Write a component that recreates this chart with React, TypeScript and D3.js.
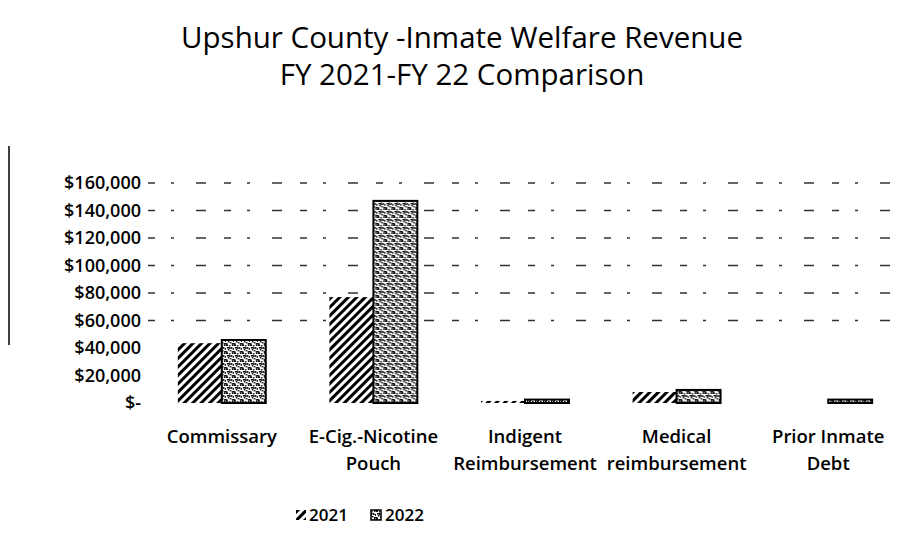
import React from 'react';
import * as d3 from 'd3';

const categories = [
  ['Commissary'],
  ['E-Cig.-Nicotine', 'Pouch'],
  ['Indigent', 'Reimbursement'],
  ['Medical', 'reimbursement'],
  ['Prior Inmate', 'Debt'],
];
const values2021 = [43500, 77000, 1500, 8000, 0];
const values2022 = [45800, 147000, 2500, 9500, 2500];
const seriesNames = ['2021', '2022'];
const yTicks = [0, 20000, 40000, 60000, 80000, 100000, 120000, 140000, 160000];
const gridTicks = [60000, 80000, 100000, 120000, 140000, 160000];

const W = 923;
const H = 546;
const FONT = '"Open Sans", Lato, "DejaVu Sans", sans-serif';

const fmt = (v: number) => (v === 0 ? '$-' : '$' + d3.format(',')(v));

// fixed stipple layout for the 2022 texture
const stipple = [
  [0, 0], [3, 1], [6, 0], [1, 3], [5, 3], [2, 5], [7, 4], [4, 6], [0, 7], [6, 7], [3, 3],
];

const App: React.FC = () => {
  const x = d3.scaleBand<number>()
    .domain(d3.range(categories.length))
    .range([146, 904])
    .paddingInner(0.42)
    .paddingOuter(0.21);
  const sub = d3.scaleBand<string>()
    .domain(seriesNames)
    .range([0, x.bandwidth()]);
  const y = d3.scaleLinear().domain([0, 160000]).range([403, 183]);

  const series = [values2021, values2022];

  return (
    <svg
      width={W}
      height={H}
      style={{ position: 'absolute', left: 0, top: 0, background: '#fff' }}
      fontFamily={FONT}
    >
      <defs>
        <pattern id="hatch" width="6" height="6" patternUnits="userSpaceOnUse" patternTransform="rotate(45)">
          <rect width="6" height="6" fill="#fff" />
          <rect x="0" y="0" width="3" height="6" fill="#000" />
        </pattern>
        <pattern id="stip" width="8" height="8" patternUnits="userSpaceOnUse">
          <rect width="8" height="8" fill="#fff" />
          {stipple.map(([sx, sy], i) => (
            <rect key={i} x={sx} y={sy} width={i % 3 === 0 ? 2 : 1.5} height={i % 2 === 0 ? 2 : 1.5} fill="#111" />
          ))}
        </pattern>
      </defs>

      {/* title */}
      <text x={462} y={48} textAnchor="middle" fontSize={29.5} fill="#000">
        Upshur County -Inmate Welfare Revenue
      </text>
      <text x={462} y={85} textAnchor="middle" fontSize={29.5} fill="#000">
        FY 2021-FY 22 Comparison
      </text>

      {/* scan edge mark */}
      <line x1={9} x2={9} y1={146} y2={345} stroke="#000" strokeWidth={1.5} />

      {/* gridlines */}
      {gridTicks.map(t => (
        <line
          key={t}
          x1={148}
          x2={890}
          y1={y(t)}
          y2={y(t)}
          stroke="#000"
          strokeWidth={1.4}
          strokeDasharray="7 16 3 22 10 18"
          opacity={0.8}
        />
      ))}

      {/* y axis labels */}
      {yTicks.map(t => (
        <text key={t} x={141} y={y(t) + 6} textAnchor="end" fontSize={18} fontWeight={600} fill="#000">
          {fmt(t)}
        </text>
      ))}

      {/* bars */}
      {categories.map((_, i) => (
        <g key={i} transform={`translate(${x(i)},0)`}>
          {series.map((vals, s) => {
            const v = vals[i];
            if (v <= 0) return null;
            const top = y(v);
            const h = y(0) - top;
            return (
              <rect
                key={s}
                x={sub(seriesNames[s])}
                y={top}
                width={sub.bandwidth()}
                height={Math.max(h, 2)}
                fill={s === 0 ? 'url(#hatch)' : 'url(#stip)'}
                stroke={s === 1 ? '#000' : 'none'}
                strokeWidth={2}
              />
            );
          })}
        </g>
      ))}

      {/* category labels */}
      {categories.map((lines, i) => (
        <text
          key={i}
          x={(x(i) as number) + x.bandwidth() / 2}
          textAnchor="middle"
          fontSize={18.5}
          fontWeight={600}
          fill="#000"
        >
          {lines.map((l, j) => (
            <tspan key={j} x={(x(i) as number) + x.bandwidth() / 2} y={443 + j * 27}>{l}</tspan>
          ))}
        </text>
      ))}

      {/* legend */}
      <g transform="translate(296,510)">
        <rect x={0} y={0} width={10} height={10} fill="url(#hatch)" />
        <text x={13} y={11} fontSize={17} fontWeight={600} fill="#000">{seriesNames[0]}</text>
        <rect x={75} y={0} width={10} height={10} fill="url(#stip)" stroke="#000" strokeWidth={1.5} />
        <text x={89} y={11} fontSize={17} fontWeight={600} fill="#000">{seriesNames[1]}</text>
      </g>
    </svg>
  );
};

export default App;
